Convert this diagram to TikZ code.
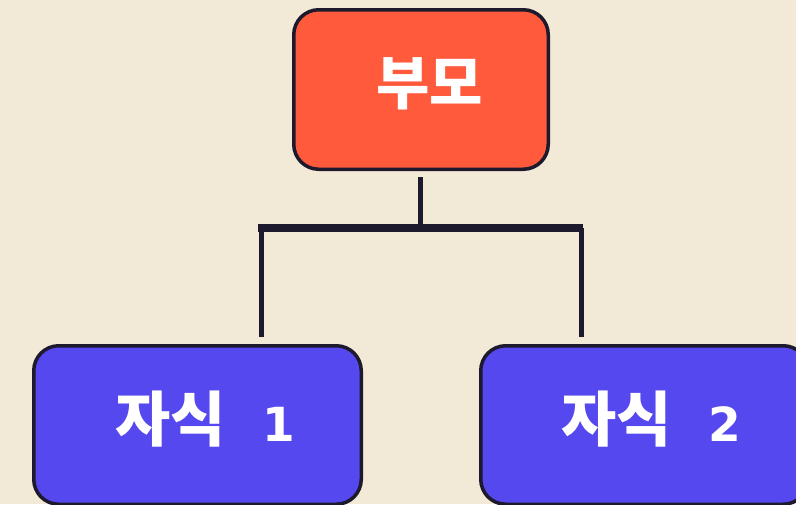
\documentclass[tikz,border=0pt]{standalone}
\usepackage{fontspec}
\newfontfamily\kr{Noto Sans CJK KR}
\newfontfamily\dv{DejaVu Sans}
\definecolor{bg}{HTML}{F2E9D6}
\definecolor{parentfill}{HTML}{FF5A3B}
\definecolor{childfill}{HTML}{5548EE}
\definecolor{ink}{HTML}{1C1A2C}
\tikzset{
  box/.style={draw=ink, line width=3.5pt, rounded corners=25pt, inner sep=0pt, text=white},
  parentbox/.style={box, fill=parentfill, minimum width=254.5pt, minimum height=159.5pt},
  childbox/.style={box, fill=childfill, minimum width=327.5pt, minimum height=158.5pt},
  label/.style={text=white, inner sep=0pt, anchor=base},
  conn/.style={draw=ink, line width=5pt},
  bar/.style={draw=ink, line width=8pt}
}
\begin{document}
\begin{tikzpicture}[x=1pt,y=-1pt]
\fill[bg] (0,0) rectangle (796,504);
\useasboundingbox (0,0) rectangle (796,504);
\node[parentbox] (parent) at (421,89.5) {};
\node[childbox] (child1) at (197.5,425) {};
\node[childbox] (child2) at (644.5,425) {};
\node[label] (t0) at (429.5,104) {\kr\bfseries\fontsize{58}{60}\selectfont 부모};
\node[label,anchor=base west] (t1a) at (115,441) {\kr\bfseries\fontsize{60}{62}\selectfont 자식};
\node[label,anchor=base] (t1b) at (279,441) {\dv\bfseries\fontsize{47}{50}\selectfont 1};
\node[label,anchor=base west] (t2a) at (561,441) {\kr\bfseries\fontsize{60}{62}\selectfont 자식};
\node[label,anchor=base] (t2b) at (724.5,441) {\dv\bfseries\fontsize{47}{50}\selectfont 2};
\coordinate (j) at (420,228);
\coordinate (bl) at (258,228);
\coordinate (br) at (583,228);
\coordinate (l) at (261,228);
\coordinate (r) at (581,228);
\draw[conn, shorten <=6pt] (parent.south -| j) -- (j);
\draw[bar] (bl) -- (br);
\draw[conn, shorten >=7pt] (l) -- (child1.north -| l);
\draw[conn, shorten >=7pt] (r) -- (child2.north -| r);
\end{tikzpicture}
\end{document}
